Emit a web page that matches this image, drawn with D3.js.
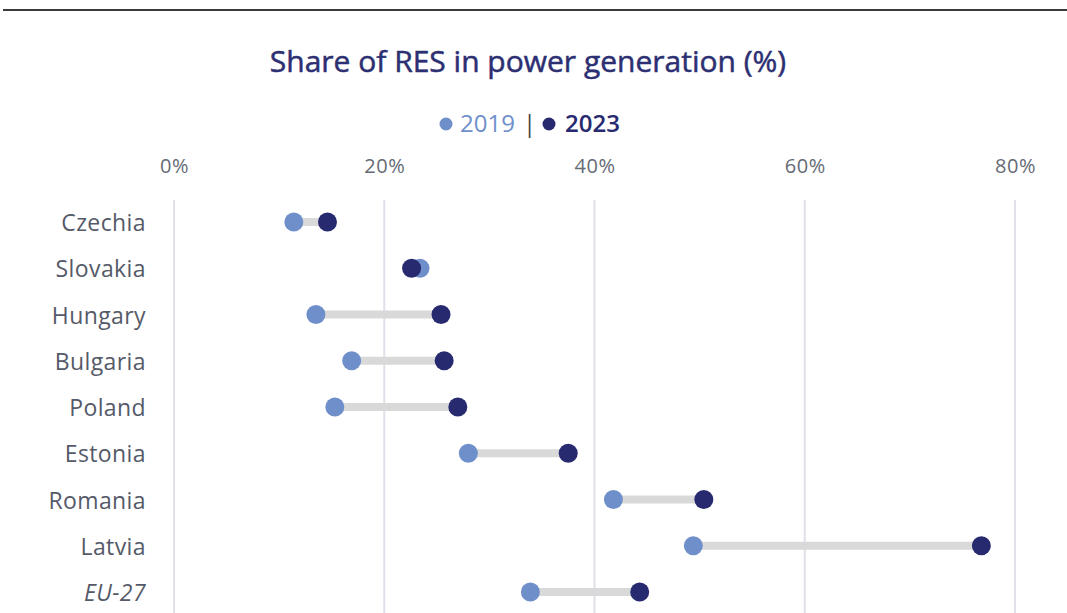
<!DOCTYPE html>
<html>
<head>
<meta charset="utf-8">
<script src="https://cdn.jsdelivr.net/npm/d3@7"></script>
<style>
  body { margin: 0; background: #fff; }
  svg { display: block; font-family: "Open Sans", sans-serif; }
</style>
</head>
<body>
<script>
var countries = ["Czechia", "Slovakia", "Hungary", "Bulgaria", "Poland", "Estonia", "Romania", "Latvia", "EU-27"];
var res2019 = [11.4, 23.4, 13.5, 16.9, 15.3, 28.0, 41.8, 49.4, 33.9];
var res2023 = [14.6, 22.6, 25.4, 25.7, 27.0, 37.5, 50.4, 76.8, 44.3];
var tickValues = [0, 20, 40, 60, 80];

var width = 1067, height = 613;
var c2019 = "#6f8fca", c2023 = "#282a70";

var svg = d3.select("body").append("svg")
    .attr("width", width)
    .attr("height", height);

// top rule
svg.append("line")
    .attr("x1", 3).attr("x2", width)
    .attr("y1", 10).attr("y2", 10)
    .attr("stroke", "#3a3a3a")
    .attr("stroke-width", 2);

svg.append("text")
    .attr("x", 528)
    .attr("y", 72)
    .attr("text-anchor", "middle")
    .attr("font-size", 30)
    .attr("fill", "#2c2f72")
    .attr("stroke", "#2c2f72")
    .attr("stroke-width", 0.5)
    .text("Share of RES in power generation (%)");

// legend
var legend = svg.append("g");
legend.append("circle").attr("cx", 446).attr("cy", 124).attr("r", 6.5).attr("fill", c2019);
legend.append("text").attr("x", 460).attr("y", 132).attr("font-size", 24).attr("fill", c2019).text("2019");
legend.append("text").attr("x", 523).attr("y", 132).attr("font-size", 24).attr("fill", "#444").text("|");
legend.append("circle").attr("cx", 549).attr("cy", 124).attr("r", 6.5).attr("fill", c2023);
legend.append("text").attr("x", 565).attr("y", 132).attr("font-size", 24).attr("font-weight", 600).attr("fill", c2023).text("2023");

var x = d3.scaleLinear().domain([0, 80]).range([174, 1015]);
var y = d3.scalePoint().domain(countries).range([222, 592]);

// grid
svg.append("g").selectAll("line")
    .data(tickValues)
    .enter().append("line")
    .attr("x1", function(d) { return x(d); })
    .attr("x2", function(d) { return x(d); })
    .attr("y1", 200).attr("y2", height)
    .attr("stroke", "#dfe0ea")
    .attr("stroke-width", 2);

// top axis
var xAxis = svg.append("g")
    .attr("transform", "translate(0,173)")
    .call(d3.axisTop(x).tickValues(tickValues).tickSize(0).tickPadding(0)
        .tickFormat(function(d) { return d + "%"; }));
xAxis.select(".domain").remove();
xAxis.selectAll("text")
    .attr("font-family", "Open Sans, sans-serif")
    .attr("font-size", 20)
    .attr("letter-spacing", 0.5)
    .attr("fill", "#666a75");

// country labels
svg.append("g").selectAll("text")
    .data(countries)
    .enter().append("text")
    .attr("x", 146)
    .attr("y", function(d) { return y(d) + 9; })
    .attr("text-anchor", "end")
    .attr("font-size", 23)
    .attr("letter-spacing", 0.4)
    .attr("font-style", function(d) { return d === "EU-27" ? "italic" : "normal"; })
    .attr("fill", "#555a68")
    .text(function(d) { return d; });

var rows = countries.map(function(c, i) { return { c: c, a: res2019[i], b: res2023[i] }; });

var g = svg.append("g").selectAll("g")
    .data(rows)
    .enter().append("g");

g.append("line")
    .attr("x1", function(d) { return x(d.a); })
    .attr("x2", function(d) { return x(d.b); })
    .attr("y1", function(d) { return y(d.c); })
    .attr("y2", function(d) { return y(d.c); })
    .attr("stroke", "#d9d9d9")
    .attr("stroke-width", 8);

g.append("circle")
    .attr("cx", function(d) { return x(d.a); })
    .attr("cy", function(d) { return y(d.c); })
    .attr("r", 9.5)
    .attr("fill", c2019);

g.append("circle")
    .attr("cx", function(d) { return x(d.b); })
    .attr("cy", function(d) { return y(d.c); })
    .attr("r", 9.5)
    .attr("fill", c2023);
</script>
</body>
</html>
